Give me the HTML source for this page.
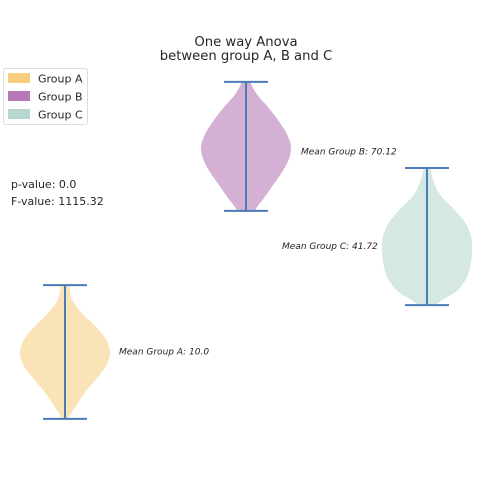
<!DOCTYPE html>
<html><head><meta charset="utf-8"><style>
body{margin:0;background:#fff;width:480px;height:480px;overflow:hidden}
svg text{font-family:"DejaVu Sans","Liberation Sans",sans-serif;fill:#262626}
</style></head><body>
<svg id="chart" width="480" height="480" viewBox="0 0 480 480">
<text x="246" y="46" font-size="13.2" text-anchor="middle">One way Anova</text>
<text x="246" y="60" font-size="13.2" text-anchor="middle">between group A, B and C</text>
<g>
<rect x="3.5" y="68.5" width="84" height="56" rx="2" fill="#fff" stroke="#ddd"/>
<g><rect x="8" y="73" width="22" height="10" fill="#f9cf7f"/><text x="38" y="82.5" font-size="11">Group A</text></g>
<g><rect x="8" y="91" width="22" height="10" fill="#b57ab6"/><text x="38" y="100.5" font-size="11">Group B</text></g>
<g><rect x="8" y="109" width="22" height="10" fill="#b4d8cf"/><text x="38" y="118.5" font-size="11">Group C</text></g>
</g>
<text x="11" y="188" font-size="11">p-value: 0.0</text>
<text x="11" y="205" font-size="11">F-value: 1115.32</text>
<g id="violins"></g>
</svg>
<script>
const groups = ["A","B","C"];
const means = [10.0, 70.12, 41.72];
const mins = [-10.4, 52.1, 23.8];
const maxs = [29.8, 90.9, 65.0];
const densityA = [0.08,0.25,0.45,0.7,0.92,1.0,0.9,0.65,0.35,0.15,0.1];
const densityB = [0.2,0.4,0.6,0.8,0.95,1.0,0.9,0.72,0.5,0.25,0.1];
const densityC = [0.2,0.65,0.88,0.97,1.0,0.98,0.85,0.6,0.3,0.15,0.08];
const meanLabels = ["Mean Group A: 10.0","Mean Group B: 70.12","Mean Group C: 41.72"];
const densities=[densityA,densityB,densityC];
const fills=["#fbe3b8","#d4b1d4","#d5e8e3"];
const xCenters=[65,246,427];
const labelPos=[[119,355,"start"],[301,155,"start"],[282,249,"start"]];
const halfW=45, capW=22;
function y(v){return 351-(v-10)*3.327;}
const ns="http://www.w3.org/2000/svg";
const g=document.getElementById('violins');
function cr(p,i){return p[Math.max(0,Math.min(p.length-1,i))];}
groups.forEach((name,k)=>{
  const d=densities[k],cx=xCenters[k],n=d.length;
  const pts=[];
  for(let i=0;i<n-1;i++){
    for(let s=0;s<8;s++){
      const t=s/8,p0=cr(d,i-1),p1=d[i],p2=d[i+1],p3=cr(d,i+2);
      const w=0.5*((2*p1)+(-p0+p2)*t+(2*p0-5*p1+4*p2-p3)*t*t+(-p0+3*p1-3*p2+p3)*t*t*t);
      const v=mins[k]+(maxs[k]-mins[k])*(i+t)/(n-1);
      pts.push([Math.max(0,w)*halfW,y(v)]);
    }
  }
  pts.push([d[n-1]*halfW,y(maxs[k])]);
  let path="M"+pts.map(p=>(cx+p[0]).toFixed(1)+","+p[1].toFixed(1)).join("L");
  path+="L"+pts.slice().reverse().map(p=>(cx-p[0]).toFixed(1)+","+p[1].toFixed(1)).join("L")+"Z";
  const body=document.createElementNS(ns,'path');
  body.setAttribute('d',path);body.setAttribute('fill',fills[k]);
  
  
  g.appendChild(body);
  const mk=(x1,y1,x2,y2,nm)=>{const l=document.createElementNS(ns,'line');
    l.setAttribute('x1',x1);l.setAttribute('y1',y1);l.setAttribute('x2',x2);l.setAttribute('y2',y2);
    l.setAttribute('stroke','#4a7cb8');l.setAttribute('stroke-width','2');
    
    
    g.appendChild(l);};
  mk(cx,y(maxs[k]),cx,y(mins[k]),'range-line-'+name.toLowerCase());
  mk(cx-capW,y(maxs[k]),cx+capW,y(maxs[k]),'max-cap-'+name.toLowerCase());
  mk(cx-capW,y(mins[k]),cx+capW,y(mins[k]),'min-cap-'+name.toLowerCase());
  const t=document.createElementNS(ns,'text');
  t.setAttribute('x',labelPos[k][0]);t.setAttribute('y',y(means[k])+3.5);
  t.setAttribute('font-size','9');t.setAttribute('font-style','italic');
  
  
  t.textContent=meanLabels[k];g.appendChild(t);
});
</script>
</body></html>
